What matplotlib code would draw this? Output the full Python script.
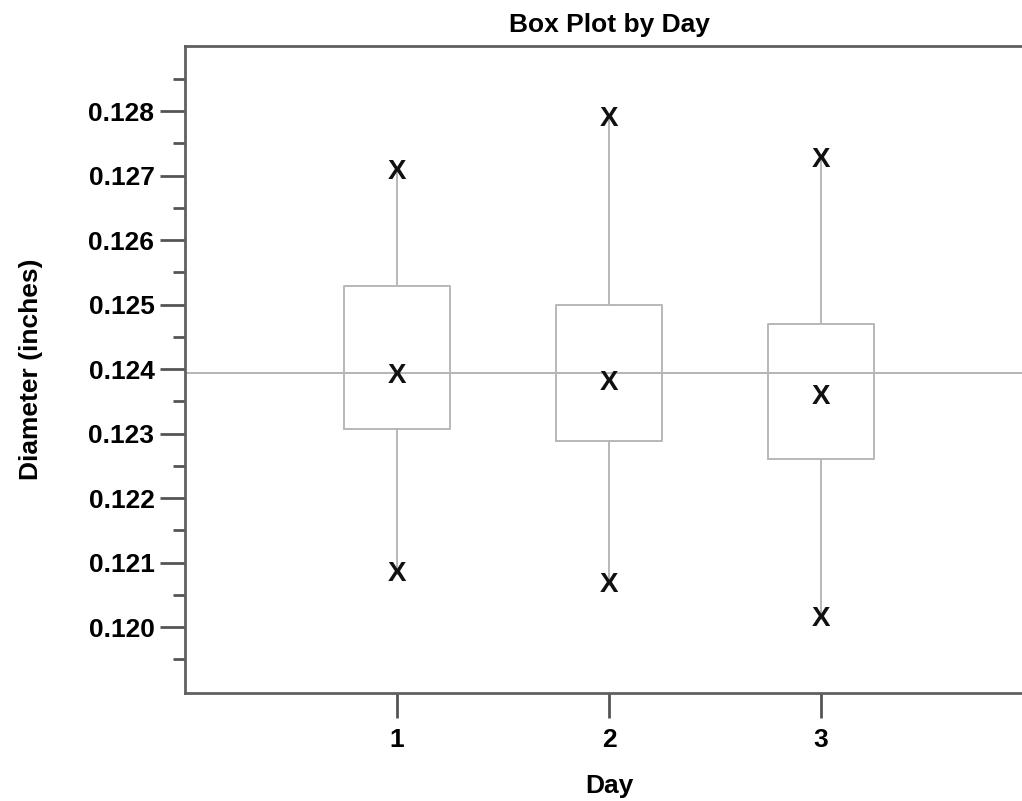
import numpy as np
import matplotlib.pyplot as plt

plt.rcParams["font.family"] = ["Liberation Sans", "DejaVu Sans"]
plt.rcParams["font.weight"] = "bold"

days = [1, 2, 3]
q1 = [0.12307, 0.12289, 0.12260]
q3 = [0.12529, 0.12499, 0.12470]
centers = [0.12389, 0.12379, 0.12357]
lows = [0.12082, 0.12065, 0.12013]
highs = [0.12705, 0.12788, 0.12724]
grand_mean = 0.12394

major_ticks = [0.120, 0.121, 0.122, 0.123, 0.124, 0.125, 0.126, 0.127, 0.128]

fig = plt.figure(figsize=(10.22, 8.01), dpi=100)
ax = fig.add_axes([185 / 1022, 1 - 693 / 801, (1033 - 185) / 1022, (693 - 46) / 801])

stats = []
for d, a, b, c, lo, hi in zip(days, q1, q3, centers, lows, highs):
    stats.append({"med": c, "q1": a, "q3": b, "whislo": lo, "whishi": hi, "label": str(d)})

gray = "#b8b8b8"
ax.bxp(stats, positions=days, widths=0.5, showcaps=False, showfliers=False,
       boxprops=dict(color=gray, linewidth=1.4),
       whiskerprops=dict(color=gray, linewidth=1.4),
       medianprops=dict(linewidth=0))

for d, c, lo, hi in zip(days, centers, lows, highs):
    for v in (c, lo, hi):
        ax.text(d, v, "X", ha="center", va="center", fontsize=20, fontweight="bold", color="#111111")

ax.axhline(grand_mean, color="#a8a8a8", linewidth=1.2, zorder=0)

ax.set_xlim(0, 4)
ax.set_ylim(0.11898, 0.12901)
ax.set_xticks(days)
ax.set_xticklabels([str(d) for d in days])
ax.set_yticks(major_ticks)
ax.set_yticklabels([f"{t:.3f}" for t in major_ticks])
ax.set_yticks(np.arange(0.1195, 0.1290, 0.001), minor=True)

ax.tick_params(axis="both", which="major", length=18, width=2, color="#555555",
               labelsize=19)
ax.tick_params(axis="y", which="major", pad=4)
ax.tick_params(axis="x", which="major", pad=7)
ax.tick_params(axis="y", which="minor", length=9, width=2, color="#555555")
for s in ["left", "bottom", "top"]:
    ax.spines[s].set_linewidth(2)
    ax.spines[s].set_color("#606060")
ax.spines["right"].set_visible(False)

ax.set_title("Box Plot by Day", fontsize=19, fontweight="bold", pad=10)
ax.set_xlabel("Day", fontsize=19, fontweight="bold", labelpad=16)
ax.set_ylabel("Diameter (inches)", fontsize=19, fontweight="bold", labelpad=33)

fig.savefig("out.png", dpi=100)
